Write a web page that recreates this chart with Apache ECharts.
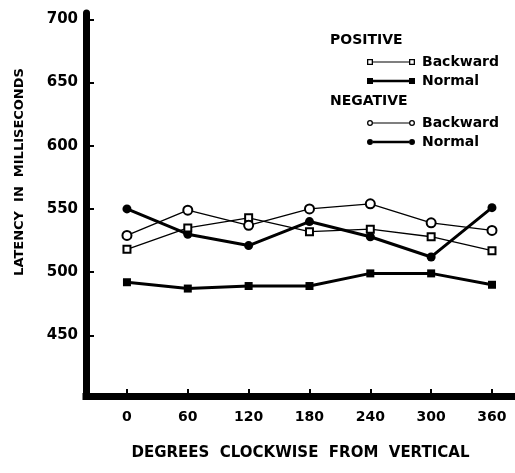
<!DOCTYPE html>
<html><head><meta charset="utf-8">
<script src="https://cdn.jsdelivr.net/npm/echarts@6/dist/echarts.min.js"></script>
<style>html,body{margin:0;padding:0;background:#fff}#c{width:515px;height:473px}</style>
</head><body><div id="c"></div>
<script>
const degrees = [0, 60, 120, 180, 240, 300, 360];
const yTicks = [450, 500, 550, 600, 650, 700];
const posBackward = [518, 535, 543, 532, 534, 528, 517];
const posNormal = [492, 487, 489, 489, 499, 499, 490];
const negBackward = [529, 549, 537, 550, 554, 539, 533];
const negNormal = [550, 530, 521, 540, 528, 512, 551];
const seriesNames = ['POSITIVE Backward', 'POSITIVE Normal', 'NEGATIVE Backward', 'NEGATIVE Normal'];
const groupTitles = ['POSITIVE', 'NEGATIVE'];
const xTitle = 'DEGREES  CLOCKWISE  FROM  VERTICAL';
const yTitle = 'LATENCY  IN  MILLISECONDS';

const pairs = arr => degrees.map((d, i) => [d, arr[i]]);
const FONT = 'DejaVu Sans';

const iconSqHollow = 'path://M0 0L6 0L6 6L0 6Z M1.3 1.3L1.3 4.7L4.7 4.7L4.7 1.3Z M6 2.5L42 2.5L42 3.5L6 3.5Z M42 0L48 0L48 6L42 6Z M43.3 1.3L43.3 4.7L46.7 4.7L46.7 1.3Z';
const iconSqFilled = 'path://M0 0L6 0L6 6L0 6Z M6 1.8L42 1.8L42 4.2L6 4.2Z M42 0L48 0L48 6L42 6Z';
const iconCiHollow = 'path://M0 3A3 3 0 1 1 6 3A3 3 0 1 1 0 3Z M1.3 3A1.7 1.7 0 1 0 4.7 3A1.7 1.7 0 1 0 1.3 3Z M6 2.5L42 2.5L42 3.5L6 3.5Z M42 3A3 3 0 1 1 48 3A3 3 0 1 1 42 3Z M43.3 3A1.7 1.7 0 1 0 46.7 3A1.7 1.7 0 1 0 43.3 3Z';
const iconCiFilled = 'path://M0 3A3 3 0 1 1 6 3A3 3 0 1 1 0 3Z M6 1.8L42 1.8L42 4.2L6 4.2Z M42 3A3 3 0 1 1 48 3A3 3 0 1 1 42 3Z';

const legendCommon = {
  orient: 'vertical', left: 362, itemWidth: 48, itemHeight: 6, itemGap: 5,
  selectedMode: false,
  itemStyle: { color: '#000', borderWidth: 0 },
  textStyle: { fontFamily: FONT, fontWeight: 'bold', fontSize: 14, color: '#000', padding: [0, 0, 0, 2] },
  formatter: n => n.split(' ')[1]
};

const chart = echarts.init(document.getElementById('c'));
chart.setOption({
  animation: false,
  backgroundColor: '#fff',
  grid: { left: 86, right: 0, top: 13, bottom: 77, outerBoundsMode: 'none' },
  xAxis: {
    type: 'value', min: -40.4, max: 382.7,
    name: xTitle, nameLocation: 'middle', nameGap: 50,
    nameTextStyle: { fontFamily: FONT, fontWeight: 'bold', fontSize: 15, color: '#000' },
    axisLine: { show: true, onZero: false, lineStyle: { color: '#000', width: 7, cap: 'square' } },
    axisTick: { show: true, inside: true, length: 7, customValues: degrees, lineStyle: { color: '#000', width: 2 } },
    axisLabel: { customValues: degrees, margin: 14, fontFamily: FONT, fontWeight: 'bold', fontSize: 14, color: '#000' },
    splitLine: { show: false }
  },
  yAxis: {
    type: 'value', min: 402, max: 705,
    axisLine: { show: true, onZero: false, lineStyle: { color: '#000', width: 7 } },
    axisTick: { show: true, inside: true, length: 8, customValues: yTicks, lineStyle: { color: '#000', width: 2 } },
    axisLabel: { customValues: yTicks, margin: 8, fontFamily: FONT, fontWeight: 'bold', fontSize: 15, color: '#000' },
    splitLine: { show: false }
  },
  legend: [
    Object.assign({}, legendCommon, { top: 50, data: [
      { name: seriesNames[0], icon: iconSqHollow },
      { name: seriesNames[1], icon: iconSqFilled } ] }),
    Object.assign({}, legendCommon, { top: 111, data: [
      { name: seriesNames[2], icon: iconCiHollow },
      { name: seriesNames[3], icon: iconCiFilled } ] })
  ],
  graphic: [
    { type: 'text', left: 330, top: 33, style: { text: groupTitles[0], font: 'bold 14px "DejaVu Sans"', fill: '#000' } },
    { type: 'text', left: 330, top: 94, style: { text: groupTitles[1], font: 'bold 14px "DejaVu Sans"', fill: '#000' } },
    { type: 'text', x: 20, y: 172, rotation: Math.PI / 2,
      style: { text: yTitle, font: 'bold 13px "DejaVu Sans"', fill: '#000', align: 'center', verticalAlign: 'middle' } }
  ],
  series: [
    { name: seriesNames[0], type: 'line', data: pairs(posBackward), symbol: 'emptyRect', symbolSize: 7,
      lineStyle: { color: '#000', width: 1.3 }, itemStyle: { color: '#000', borderWidth: 1.3 }, z: 4 },
    { name: seriesNames[1], type: 'line', data: pairs(posNormal), symbol: 'rect', symbolSize: 8,
      lineStyle: { color: '#000', width: 3 }, itemStyle: { color: '#000' }, z: 3 },
    { name: seriesNames[2], type: 'line', data: pairs(negBackward), symbol: 'emptyCircle', symbolSize: 9,
      lineStyle: { color: '#000', width: 1.3 }, itemStyle: { color: '#000', borderWidth: 1.3 }, z: 4 },
    { name: seriesNames[3], type: 'line', data: pairs(negNormal), symbol: 'circle', symbolSize: 9,
      lineStyle: { color: '#000', width: 3 }, itemStyle: { color: '#000' }, z: 3 }
  ]
});
</script></body></html>
